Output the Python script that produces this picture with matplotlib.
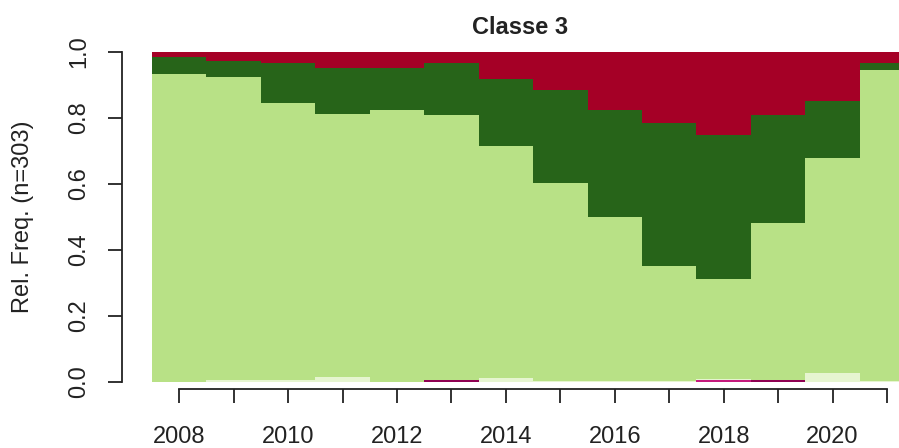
import matplotlib
matplotlib.use("Agg")
import matplotlib.pyplot as plt
import numpy as np

plt.rcParams['font.family'] = ['Liberation Sans', 'DejaVu Sans']

years = list(range(2008, 2022))
# stacked categories, bottom to top
cat_dark_magenta = [0, 0, 0, 0, 0, 0.006, 0, 0, 0, 0, 0, 0.006, 0, 0]
cat_magenta      = [0, 0, 0, 0, 0, 0, 0, 0, 0, 0, 0.006, 0, 0, 0]
cat_light        = [0, 0.007, 0.007, 0.014, 0, 0, 0.012, 0.004, 0.003, 0.003, 0.004, 0, 0.027, 0.004]
cat_light_green  = [0.932, 0.918, 0.838, 0.797, 0.824, 0.803, 0.703, 0.598, 0.498, 0.349, 0.302, 0.475, 0.651, 0.941]
cat_dark_green   = [0.054, 0.048, 0.121, 0.141, 0.128, 0.157, 0.202, 0.283, 0.322, 0.432, 0.437, 0.329, 0.173, 0.021]
cat_red          = [0.014, 0.027, 0.034, 0.048, 0.048, 0.034, 0.083, 0.115, 0.177, 0.216, 0.251, 0.190, 0.149, 0.034]

series = [cat_dark_magenta, cat_magenta, cat_light, cat_light_green, cat_dark_green, cat_red]
colors = ['#8E0152', '#C51B7D', '#E6F5D0', '#B8E186', '#276419', '#A50026']

W, H = 899, 448
fig = plt.figure(figsize=(W/100, H/100), dpi=100)
ax = fig.add_axes([152/W, (H-382)/H, (899-152)/W, 330/H])

bottom = np.zeros(len(years))
for vals, c in zip(series, colors):
    v = np.array(vals, dtype=float)
    ax.bar(years, v, width=1.0, bottom=bottom, color=c, edgecolor='none', linewidth=0, align='center')
    bottom += v

ax.set_ylim(0, 1)
ax.set_xlim(2007.5, 2021.22)

for s in ['top', 'right']:
    ax.spines[s].set_visible(False)
ax.spines['left'].set_position(('outward', 21.6))
ax.spines['left'].set_bounds(0, 1)
ax.spines['bottom'].set_position(('outward', 5.0))
ax.spines['bottom'].set_bounds(2008, 2021)
for s in ['left', 'bottom']:
    ax.spines[s].set_linewidth(1.3)
    ax.spines[s].set_color('#222222')

ax.set_xticks(years)
ax.set_xticklabels([str(y) if y % 2 == 0 else '' for y in years])
ax.set_yticks([0, 0.2, 0.4, 0.6, 0.8, 1.0])
ax.set_yticklabels(['0.0', '0.2', '0.4', '0.6', '0.8', '1.0'])
ax.tick_params(axis='both', length=10, width=1.3, color='#222222', labelsize=17, labelcolor='#222222')
ax.tick_params(axis='x', pad=17)
ax.tick_params(axis='y', pad=13)
for t in ax.get_yticklabels():
    t.set_rotation(90)
    t.set_va('center')

ax.set_ylabel('Rel. Freq. (n=303)', fontsize=17, color='#222222')
ax.yaxis.set_label_coords(-0.158, 0.5)

fig.text(520/W, 1 - 28/H, 'Classe 3', ha='center', va='center', fontsize=17, fontweight='bold', color='#222222')

fig.savefig('out.png', dpi=100)
